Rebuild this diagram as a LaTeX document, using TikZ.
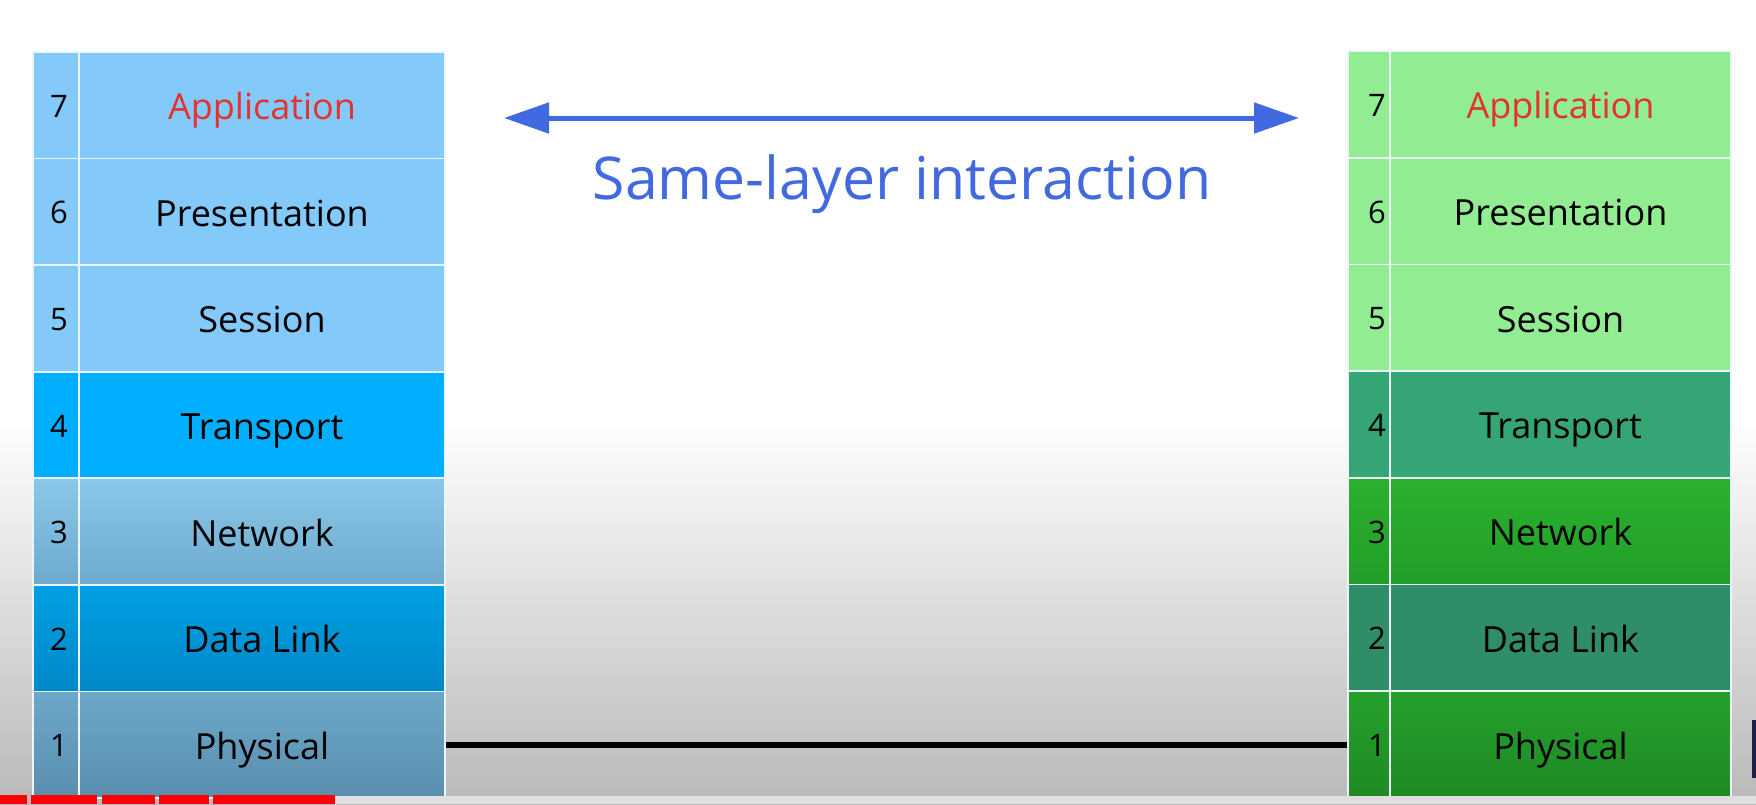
\documentclass[tikz,border=0pt]{standalone}
\usepackage{fontspec}
\setmainfont{Open Sans}
\usetikzlibrary{arrows.meta}
\definecolor{lbA}{RGB}{131,201,250}
\definecolor{lbT}{RGB}{0,175,255}
\definecolor{lbN1}{RGB}{139,199,232}
\definecolor{lbN2}{RGB}{110,170,206}
\definecolor{lbD1}{RGB}{0,160,228}
\definecolor{lbD2}{RGB}{0,136,200}
\definecolor{lbP1}{RGB}{108,168,200}
\definecolor{lbP2}{RGB}{90,142,174}
\definecolor{lgA}{RGB}{146,236,146}
\definecolor{lgT}{RGB}{53,165,117}
\definecolor{lgN1}{RGB}{43,177,47}
\definecolor{lgN2}{RGB}{34,158,40}
\definecolor{lgD}{RGB}{47,142,104}
\definecolor{lgP1}{RGB}{37,160,43}
\definecolor{lgP2}{RGB}{31,138,37}
\definecolor{appred}{RGB}{228,50,45}
\definecolor{sameblue}{RGB}{66,106,224}
\definecolor{sep}{RGB}{235,245,250}
\begin{document}
\begin{tikzpicture}[x=0.5pt,y=-0.5pt,
  cell/.style={rectangle, inner sep=0pt, draw=sep, line width=0.8pt,
    minimum height=53.3pt, text height=16pt, text depth=1.5pt,
    font=\fontsize{18}{21}\selectfont, text=black},
  numcell/.style={cell, text height=13pt, text depth=1pt,
    font=\fontsize{15.5}{18}\selectfont},
  sameline/.style={draw=sameblue, line width=2.5pt,
    {Triangle[length=22.5pt,width=15pt]}-{Triangle[length=22.5pt,width=15pt]}},
  wire/.style={draw=black, line width=3pt}]
\useasboundingbox (0,0) rectangle (1756,804);
% background
\fill[white] (0,0) rectangle (1756,804);
\shade[top color=white, bottom color=gray!55] (0,420) rectangle (1756,804);
% left stack
\foreach \n/\lab/\tc/\ca/\cb [count=\r from 0] in
  {7/Application/appred/lbA/lbA, 6/Presentation/black/lbA/lbA,
   5/Session/black/lbA/lbA, 4/Transport/black/lbT/lbT,
   3/Network/black/lbN1/lbN2, 2/Data Link/black/lbD1/lbD2,
   1/Physical/black/lbP1/lbP2}{
  \node[cell, top color=\ca, bottom color=\cb, minimum width=183pt, text=\tc]
    (L\n) at (262, 52+106.57*\r+53.3) {\lab};
  \node[numcell, top color=\ca, bottom color=\cb, minimum width=23pt]
    (LN\n) at (56, 52+106.57*\r+53.3) {\hspace*{3pt}\n};
}
% right stack
\foreach \n/\lab/\tc/\ca/\cb [count=\r from 0] in
  {7/Application/appred/lgA/lgA, 6/Presentation/black/lgA/lgA,
   5/Session/black/lgA/lgA, 4/Transport/black/lgT/lgT,
   3/Network/black/lgN1/lgN2, 2/Data Link/black/lgD/lgD,
   1/Physical/black/lgP1/lgP2}{
  \node[cell, top color=\ca, bottom color=\cb, minimum width=170.5pt, text=\tc]
    (R\n) at (1560.5, 51+106.7*\r+53.35) {\lab};
  \node[numcell, top color=\ca, bottom color=\cb, minimum width=21pt]
    (RN\n) at (1369, 51+106.7*\r+53.35) {\hspace*{8pt}\n};
}
% same-layer arrow
\coordinate (aL) at (504,118);
\coordinate (aR) at (1299,118);
\draw[sameline] (aL) -- (aR);
\node[anchor=base, text=sameblue, font=\fontsize{29.5}{34}\selectfont]
  (same) at (902,199) {Same-layer interaction};
% physical link
\draw[wire] (L1.east) -- (L1.east -| RN1.west);
% video progress bar
\fill[red] (0,795) rectangle (27,804);
\fill[red] (31,795) rectangle (97,804);
\fill[red] (102,795) rectangle (155,804);
\fill[red] (159,795) rectangle (209,804);
\fill[red] (213,795) rectangle (335,804);
\fill[gray!25] (335,796) rectangle (1756,804);
\fill[gray!60!blue!40!black] (1752,720) rectangle (1756,778);
\end{tikzpicture}
\end{document}
